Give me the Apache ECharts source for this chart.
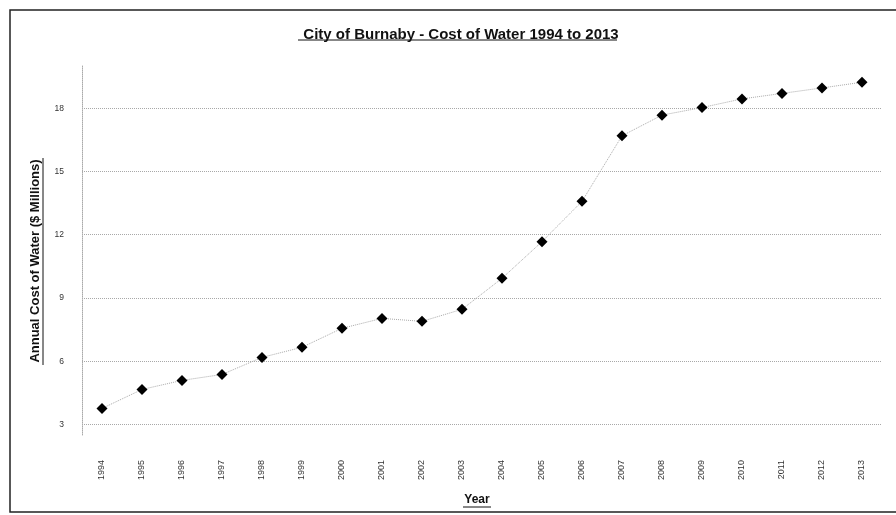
<!DOCTYPE html>
<html>
<head>
<meta charset="utf-8">
<script src="https://cdn.jsdelivr.net/npm/echarts@6/dist/echarts.min.js"></script>
<style>
  html, body { margin: 0; padding: 0; background: #fff; }
  #chart { width: 896px; height: 515px; }
</style>
</head>
<body>
<div id="chart"></div>
<script>
// values
const years = ['1994', '1995', '1996', '1997', '1998', '1999', '2000', '2001', '2002', '2003',
  '2004', '2005', '2006', '2007', '2008', '2009', '2010', '2011', '2012', '2013'];
const waterCost = [3.76, 4.66, 5.09, 5.37, 6.18, 6.66, 7.56, 8.03, 7.89, 8.46,
  9.93, 11.67, 13.58, 16.69, 17.67, 18.03, 18.44, 18.70, 18.96, 19.23];
const yTicks = [3, 6, 9, 12, 15, 18];

const chart = echarts.init(document.getElementById('chart'));
const font = '"Liberation Sans", Arial, sans-serif';

chart.setOption({
  backgroundColor: '#fff',
  animation: false,
  title: {
    text: 'City of Burnaby - Cost of Water 1994 to 2013',
    left: 456,
    top: 22,
    textAlign: 'center',
    textStyle: { fontFamily: font, fontSize: 15, fontWeight: 'bold', color: '#111' }
  },
  grid: { left: 82, right: 14, top: 66, bottom: 80 },
  xAxis: {
    type: 'category',
    data: years,
    boundaryGap: true,
    axisLine: { show: false },
    axisTick: { show: false },
    axisLabel: { rotate: 90, margin: 25, fontFamily: font, fontSize: 9, color: '#333' }
  },
  yAxis: {
    type: 'value',
    min: 2.5,
    max: 20,
    axisLine: { show: true, lineStyle: { color: '#aaa', type: 'dotted', width: 1 } },
    axisTick: { show: false, customValues: yTicks },
    axisLabel: { customValues: yTicks, margin: 18, fontFamily: font, fontSize: 8.5, color: '#333' },
    splitLine: { show: true, lineStyle: { color: '#a8a8a8', type: 'dotted', width: 1 } }
  },
  series: [{
    type: 'line',
    data: waterCost,
    symbol: 'diamond',
    symbolSize: 11,
    itemStyle: { color: '#000' },
    lineStyle: { color: '#aaa', width: 1, type: 'dotted' }
  }],
  graphic: [
    // scanned frame round the chart
    { type: 'rect', shape: { x: 10, y: 10, width: 900, height: 502 },
      style: { fill: null, stroke: '#222', lineWidth: 1.5 }, silent: true },
    // axis names, underlined like the original
    { type: 'text', x: 35, y: 261, rotation: Math.PI / 2,
      style: { text: 'Annual Cost of Water ($ Millions)', font: 'bold 13px ' + font, fill: '#111',
        align: 'center', verticalAlign: 'middle' } },
    { type: 'text', x: 477, y: 500,
      style: { text: 'Year', font: 'bold 12px ' + font, fill: '#111',
        align: 'center', verticalAlign: 'middle' } },
    { type: 'line', shape: { x1: 298, y1: 40, x2: 617, y2: 40 }, style: { stroke: '#111', lineWidth: 1 } },
    { type: 'line', shape: { x1: 463, y1: 507, x2: 491, y2: 507 }, style: { stroke: '#111', lineWidth: 1 } },
    { type: 'line', shape: { x1: 43, y1: 158, x2: 43, y2: 365 }, style: { stroke: '#111', lineWidth: 1 } }
  ]
});
</script>
</body>
</html>
